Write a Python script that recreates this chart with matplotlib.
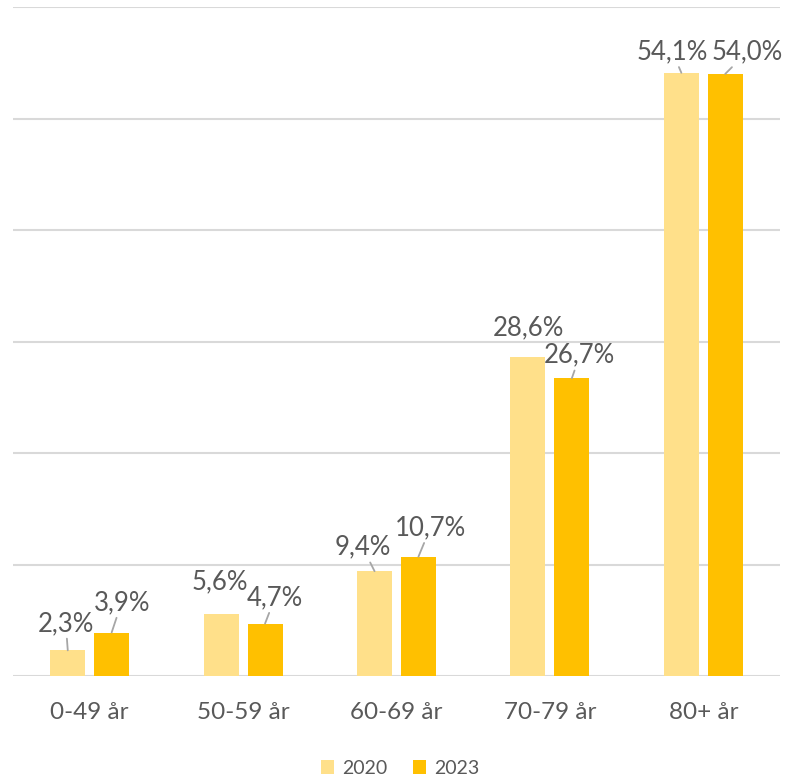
import matplotlib
matplotlib.use("Agg")
import matplotlib.pyplot as plt
import numpy as np

categories = ["0-49 år", "50-59 år", "60-69 år", "70-79 år", "80+ år"]
series_names = ["2020", "2023"]
values_2020 = [2.3, 5.6, 9.4, 28.6, 54.1]
values_2023 = [3.9, 4.7, 10.7, 26.7, 54.0]

# label offsets in pixels (dx, dy) from bar top centre
offsets_2020 = [(-2, 27), (-1, 32), (-12, 24), (0, 29), (-9, 21)]
offsets_2023 = [(10, 30), (10, 26), (12, 29), (8, 23), (22, 22)]
leader_2020 = [True, False, True, False, True]
leader_2023 = [True, True, True, True, True]

colors = ["#FFE08A", "#FFC000"]
text_color = "#595959"
grid_color = "#D9D9D9"
font = ["Lato", "DejaVu Sans"]
plt.rcParams["font.family"] = font

W, H, DPI = 789, 779, 100
fig = plt.figure(figsize=(W / DPI, H / DPI), dpi=DPI)
left, right, top, bottom = 13, 780, 7, 676
ax = fig.add_axes([left / W, 1 - bottom / H, (right - left) / W, (bottom - top) / H])

x = np.arange(len(categories))
bw = 0.228
off = 0.143
ax.bar(x - off, values_2020, bw, color=colors[0], label=series_names[0], zorder=3)
ax.bar(x + off, values_2023, bw, color=colors[1], label=series_names[1], zorder=3)

ax.set_xlim(-0.5, len(categories) - 0.5)
ax.set_ylim(0, 60)
ax.set_yticks(np.arange(0, 61, 10))
ax.yaxis.grid(True, color=grid_color, linewidth=1.5, zorder=0)
ax.set_yticklabels([])
ax.tick_params(axis="y", length=0)
ax.tick_params(axis="x", length=0, pad=19, labelsize=17.5, labelcolor=text_color)
ax.set_xticks(x)
ax.set_xticklabels(categories)
for s in ax.spines.values():
    s.set_visible(False)

pt = 72 / DPI
def fmt(v):
    return f"{v:.1f}%".replace(".", ",")

for vals, offs, leads, shift in [(values_2020, offsets_2020, leader_2020, -off),
                                 (values_2023, offsets_2023, leader_2023, off)]:
    for i, (v, (dx, dy), ld) in enumerate(zip(vals, offs, leads)):
        ap = dict(arrowstyle="-", color="#A6A6A6", lw=1.3, shrinkA=0, shrinkB=0) if ld else None
        ax.annotate(fmt(v), xy=(i + shift, v), xytext=(dx * pt, dy * pt),
                    textcoords="offset points", ha="center", va="center",
                    fontsize=18.5, color=text_color, arrowprops=ap, zorder=4)

fig.legend(loc="center", bbox_to_anchor=(400 / W, 1 - 768 / H), ncol=2, frameon=False,
           fontsize=14, labelcolor=text_color, handlelength=0.7, handleheight=0.7,
           handletextpad=0.4, columnspacing=1.3)

fig.savefig("out.png", dpi=DPI)
